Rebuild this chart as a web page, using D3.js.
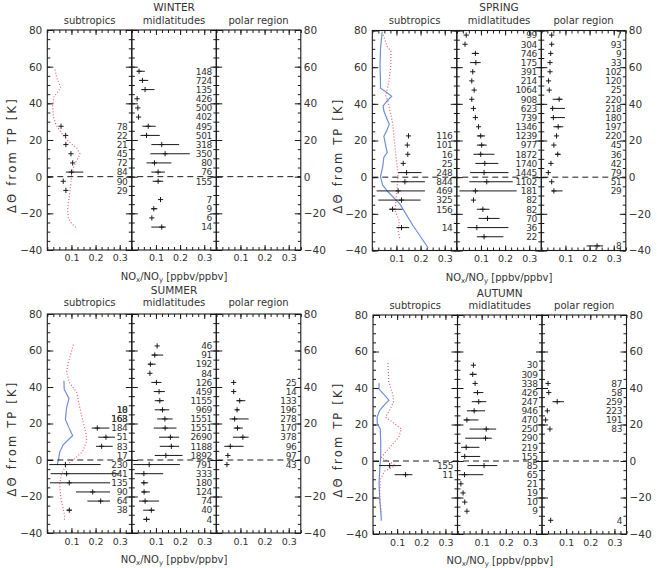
<!DOCTYPE html>
<html>
<head>
<meta charset="utf-8">
<script src="https://cdn.jsdelivr.net/npm/d3@7"></script>
<style>
body { margin: 0; background: #fff; }
text { font-family: "DejaVu Sans", sans-serif; fill: #333; }
</style>
</head>
<body>
<svg id="chart" width="657" height="568"></svg>
<script>
// tick labels
var xTickLabels = [0.1, 0.2, 0.3];
var yTickLabels = [-40, -20, 0, 20, 40, 60, 80];
var subNames = ["subtropics", "midlatitudes", "polar region"];

// WINTER subtropics
var winSubTheta = [27.5, 22.5, 17.5, 12.5, 7.5, 2.5, -2.5, -7.5];
var winSubMed = [0.057, 0.076, 0.077, 0.098, 0.105, 0.100, 0.066, 0.077];
var winSubLo  = [0.057, 0.076, 0.077, 0.098, 0.105, 0.077, 0.066, 0.077];
var winSubHi  = [0.057, 0.076, 0.077, 0.098, 0.105, 0.149, 0.066, 0.077];
var winSubN = [78, 22, 21, 45, 72, 84, 90, 29];
var winRedTheta = [58.4, 53.8, 48.9, 46.5, 43.8, 38.4, 32.9, 28.4, 23.8, 19.3, 15.6, 12.5, 9.3, 5.6, 1.1, -4.4, -10.7, -18, -22.5, -25.6, -28.5];
var winRed = [0.032, 0.039, 0.055, 0.046, 0.028, 0.022, 0.025, 0.036, 0.059, 0.087, 0.122, 0.135, 0.124, 0.110, 0.101, 0.097, 0.091, 0.084, 0.087, 0.101, 0.124];
// WINTER midlatitudes
var winMidTheta = [57.5, 52.5, 47.5, 42.5, 37.5, 32.5, 27.5, 22.5, 17.5, 12.5, 7.5, 2.5, -2.5, -12.5, -17.5, -22.5, -27.5];
var winMidMed = [0.030, 0.044, 0.055, 0.022, 0.025, 0.028, 0.068, 0.061, 0.124, 0.138, 0.094, 0.109, 0.109, 0.119, 0.091, 0.083, 0.124];
var winMidLo  = [0.022, 0.030, 0.039, 0.022, 0.025, 0.028, 0.044, 0.036, 0.081, 0.077, 0.061, 0.081, 0.086, 0.119, 0.081, 0.083, 0.081];
var winMidHi  = [0.054, 0.068, 0.094, 0.022, 0.025, 0.028, 0.099, 0.116, 0.196, 0.240, 0.164, 0.137, 0.130, 0.119, 0.106, 0.083, 0.141];
var winMidN = [148, 724, 135, 426, 500, 402, 495, 501, 318, 350, 80, 76, 155, 7, 9, 6, 14];

// SPRING subtropics
var sprSubTheta = [22.5, 17.5, 12.5, 7.5, 2.5, -2.5, -7.5, -12.5, -17.5, -27.5];
var sprSubMed = [0.150, 0.145, 0.147, 0.128, 0.142, 0.135, 0.107, 0.121, 0.084, 0.121];
var sprSubLo  = [0.150, 0.145, 0.147, 0.128, 0.107, 0.077, 0.018, 0.025, 0.069, 0.100];
var sprSubHi  = [0.150, 0.145, 0.147, 0.128, 0.204, 0.218, 0.218, 0.200, 0.125, 0.153];
var sprSubN = [116, 101, 16, 25, 248, 844, 469, 325, 156, 14];
var sprBlueTheta = [79.4, 70.2, 61, 50.9, 48.5, 46.3, 44.1, 41.7, 38.9, 36.1, 32.4, 28.8, 25.1, 22.3, 16.8, 13.5, 10.9, 5.7, 0.2, -4.4, -8.1, -14.6, -26.5, -38.5];
var sprBlue = [0.041, 0.034, 0.032, 0.034, 0.034, 0.059, 0.080, 0.062, 0.045, 0.048, 0.059, 0.070, 0.059, 0.048, 0.056, 0.062, 0.048, 0.043, 0.034, 0.043, 0.066, 0.114, 0.169, 0.231];
var sprRedTheta = [77.6, 71.2, 68.8, 61, 51.8, 44.4, 40.7, 36.1, 29.7, 20.5, 11.2, 2, -5.3, -12.7, -18.2, -23.8, -29.3, -33.4];
var sprRed = [0.045, 0.062, 0.077, 0.077, 0.068, 0.056, 0.066, 0.073, 0.084, 0.091, 0.098, 0.107, 0.103, 0.098, 0.094, 0.112, 0.107, 0.114];
// SPRING midlatitudes
var sprMidTheta = [77.5, 72.5, 67.5, 62.5, 57.5, 52.5, 47.5, 42.5, 37.5, 32.5, 27.5, 22.5, 17.5, 12.5, 7.5, 2.5, -2.5, -7.5, -12.5, -17.5, -22.5, -27.5, -32.5];
var sprMidMed = [0.039, 0.034, 0.077, 0.079, 0.066, 0.062, 0.072, 0.062, 0.069, 0.077, 0.090, 0.099, 0.103, 0.099, 0.116, 0.113, 0.124, 0.077, 0.069, 0.108, 0.127, 0.083, 0.113];
var sprMidLo  = [0.039, 0.034, 0.062, 0.055, 0.066, 0.062, 0.072, 0.062, 0.069, 0.077, 0.090, 0.083, 0.083, 0.069, 0.077, 0.055, 0.052, 0.011, 0.069, 0.083, 0.090, 0.044, 0.083];
var sprMidHi  = [0.039, 0.034, 0.092, 0.099, 0.066, 0.062, 0.072, 0.062, 0.069, 0.077, 0.090, 0.117, 0.124, 0.156, 0.172, 0.214, 0.232, 0.248, 0.069, 0.135, 0.177, 0.214, 0.193];
var sprMidN = [99, 304, 746, 175, 391, 214, 1064, 908, 623, 739, 1346, 1239, 977, 1872, 1740, 1445, 1102, 181, 82, 82, 70, 36, 22];
// SPRING polar region
var sprPolTheta = [77.5, 72.5, 67.5, 62.5, 57.5, 52.5, 47.5, 42.5, 37.5, 32.5, 27.5, 22.5, 17.5, 12.5, 7.5, 2.5, -2.5, -7.5, -37.5];
var sprPolMed = [0.043, 0.043, 0.039, 0.036, 0.036, 0.030, 0.033, 0.074, 0.047, 0.050, 0.070, 0.063, 0.052, 0.068, 0.040, 0.029, 0.043, 0.052, 0.231];
var sprPolLo  = [0.043, 0.043, 0.039, 0.036, 0.036, 0.030, 0.033, 0.047, 0.039, 0.039, 0.050, 0.063, 0.052, 0.057, 0.040, 0.029, 0.043, 0.043, 0.188];
var sprPolHi  = [0.043, 0.043, 0.039, 0.036, 0.036, 0.030, 0.033, 0.088, 0.098, 0.098, 0.091, 0.063, 0.052, 0.080, 0.040, 0.029, 0.043, 0.088, 0.256];
var sprPolN = [7, 93, 9, 33, 102, 120, 25, 220, 218, 180, 197, 220, 45, 36, 42, 79, 51, 29, 8];

// SUMMER subtropics
var sumSubTheta = [27.5, 22.5, 17.5, 12.5, 7.5, 2.5, -2.5, -7.5, -12.5, -17.5, -22.5, -27.5];
var sumSubMed = [null, null, 0.207, 0.243, 0.225, null, 0.075, 0.080, 0.091, 0.188, 0.221, 0.091];
var sumSubLo  = [null, null, 0.184, 0.211, 0.202, null, 0.008, 0.014, 0.011, 0.119, 0.166, 0.080];
var sumSubHi  = [null, null, 0.257, 0.280, 0.271, null, 0.221, 0.300, 0.260, 0.260, 0.260, 0.101];
var sumSubN = [18, 163, 184, 51, 83, 17, 230, 641, 135, 90, 64, 38];
var sumSubN2 = [10, 168, null, null, null, null, null, null, null, null, null, null];
var sumBlueTheta = [43.4, 38.8, 33.6, 28.7, 22.2, 17.6, 13.3, 11.1, 8.3, 4.6, 0, -2.8];
var sumBlue = [0.069, 0.070, 0.090, 0.080, 0.075, 0.090, 0.105, 0.087, 0.066, 0.052, 0.046, 0.041];
var sumRedTheta = [63.2, 58.2, 53.6, 48.1, 42.5, 37, 29.6, 22.2, 14.8, 10.2, 4.6, 0.9, -2.8, -7.4, -12.9, -20.3, -26.8, -31.4, -33.6];
var sumRed = [0.108, 0.098, 0.087, 0.080, 0.091, 0.122, 0.133, 0.146, 0.160, 0.163, 0.146, 0.115, 0.080, 0.059, 0.052, 0.055, 0.066, 0.073, 0.069];
// SUMMER midlatitudes
var sumMidTheta = [62.5, 57.5, 52.5, 47.5, 42.5, 37.5, 32.5, 27.5, 22.5, 17.5, 12.5, 7.5, 2.5, -2.5, -7.5, -12.5, -17.5, -22.5, -27.5, -32.5];
var sumMidMed = [0.105, 0.095, 0.077, 0.075, 0.102, 0.113, 0.116, 0.127, 0.137, 0.138, 0.160, 0.164, 0.141, 0.072, 0.050, 0.050, 0.051, 0.055, 0.081, 0.061];
var sumMidLo  = [0.105, 0.081, 0.068, 0.075, 0.081, 0.091, 0.095, 0.095, 0.105, 0.091, 0.113, 0.116, 0.095, 0.006, 0.012, 0.040, 0.040, 0.030, 0.047, 0.047];
var sumMidHi  = [0.105, 0.130, 0.099, 0.075, 0.123, 0.137, 0.133, 0.155, 0.169, 0.185, 0.196, 0.196, 0.210, 0.199, 0.130, 0.068, 0.075, 0.113, 0.095, 0.075];
var sumMidN = [46, 91, 192, 84, 126, 459, 1155, 969, 1551, 1551, 2690, 1188, 1892, 791, 333, 180, 124, 74, 40, 4];
// SUMMER polar region
var sumPolTheta = [42.5, 37.5, 32.5, 27.5, 22.5, 17.5, 12.5, 7.5, 2.5, -2.5];
var sumPolMed = [0.072, 0.072, 0.097, 0.086, 0.076, 0.088, 0.110, 0.058, 0.048, 0.044];
var sumPolLo  = [0.072, 0.072, 0.083, 0.080, 0.055, 0.072, 0.069, 0.033, 0.044, 0.044];
var sumPolHi  = [0.072, 0.072, 0.120, 0.095, 0.134, 0.110, 0.134, 0.113, 0.052, 0.044];
var sumPolN = [25, 14, 133, 196, 278, 170, 378, 96, 97, 43];

// AUTUMN subtropics
var autSubTheta = [-2.5, -7.5];
var autSubMed = [0.069, 0.135];
var autSubLo  = [0.025, 0.090];
var autSubHi  = [0.117, 0.163];
var autSubN = [155, 11];
var autBlueTheta = [42.6, 39.4, 36.1, 33.3, 30.9, 27.8, 24.1, 20.4, 17.6, 10.2, 2.8, -4.6, -12, -21.3, -30.6, -32.8];
var autBlue = [0.025, 0.025, 0.048, 0.066, 0.048, 0.028, 0.017, 0.018, 0.030, 0.032, 0.032, 0.028, 0.025, 0.028, 0.034, 0.034];
var autRedTheta = [53.7, 43.5, 36.1, 32.4, 27.8, 24.1, 20.4, 17.6, 13, 7.4, 1.9, -2.4, -5.6, -10.2, -19.4, -28.7];
var autRed = [0.062, 0.065, 0.083, 0.085, 0.069, 0.052, 0.090, 0.117, 0.107, 0.069, 0.034, 0.096, 0.048, 0.030, 0.028, 0.034];
// AUTUMN midlatitudes
var autMidTheta = [52.5, 47.5, 42.5, 37.5, 32.5, 27.5, 22.5, 17.5, 12.5, 7.5, 2.5, -2.5, -7.5, -12.5, -17.5, -22.5, -27.5];
var autMidMed = [0.066, 0.063, 0.073, 0.083, 0.088, 0.069, 0.039, 0.119, 0.116, 0.036, 0.030, 0.110, 0.029, 0.014, 0.023, 0.030, 0.039];
var autMidLo  = [0.066, 0.050, 0.073, 0.066, 0.059, 0.039, 0.025, 0.050, 0.032, 0.015, 0.014, 0.041, 0.004, 0.014, 0.023, 0.030, 0.039];
var autMidHi  = [0.066, 0.080, 0.073, 0.107, 0.119, 0.114, 0.087, 0.160, 0.142, 0.091, 0.094, 0.165, 0.107, 0.014, 0.023, 0.030, 0.039];
var autMidN = [30, 309, 338, 426, 247, 946, 470, 250, 290, 219, 155, 85, 65, 21, 19, 10, 9];
// AUTUMN polar region
var autPolTheta = [42.5, 37.5, 32.5, 27.5, 22.5, 17.5, -32.5];
var autPolMed = [0.025, 0.028, 0.063, 0.022, 0.015, 0.033, 0.036];
var autPolLo  = [0.025, 0.028, 0.043, 0.022, 0.015, 0.033, 0.036];
var autPolHi  = [0.025, 0.028, 0.091, 0.022, 0.015, 0.033, 0.036];
var autPolN = [87, 58, 259, 223, 191, 83, 4];

var empty = {theta: [], med: [], lo: [], hi: [], n: []};

var panels = [
  {title: "WINTER", x0: 47.3, yTop: 30, yBot: 250, titleY: 10.5, subY: 23.5, tickY: 254.5, axisY: 280, yLabX: 12,
   subs: [
     {theta: winSubTheta, med: winSubMed, lo: winSubLo, hi: winSubHi, n: winSubN,
      redTheta: winRedTheta, red: winRed},
     {theta: winMidTheta, med: winMidMed, lo: winMidLo, hi: winMidHi, n: winMidN},
     empty]},
  {title: "SPRING", x0: 372.3, yTop: 30.5, yBot: 250.5, titleY: 10.5, subY: 23.5, tickY: 255, axisY: 280.5, yLabX: 338,
   subs: [
     {theta: sprSubTheta, med: sprSubMed, lo: sprSubLo, hi: sprSubHi, n: sprSubN,
      blueTheta: sprBlueTheta, blue: sprBlue, redTheta: sprRedTheta, red: sprRed},
     {theta: sprMidTheta, med: sprMidMed, lo: sprMidLo, hi: sprMidHi, n: sprMidN},
     {theta: sprPolTheta, med: sprPolMed, lo: sprPolLo, hi: sprPolHi, n: sprPolN}]},
  {title: "SUMMER", x0: 47.3, yTop: 314, yBot: 533, titleY: 293.5, subY: 306, tickY: 538, axisY: 563, yLabX: 12,
   subs: [
     {theta: sumSubTheta, med: sumSubMed, lo: sumSubLo, hi: sumSubHi, n: sumSubN, n2: sumSubN2,
      blueTheta: sumBlueTheta, blue: sumBlue, redTheta: sumRedTheta, red: sumRed},
     {theta: sumMidTheta, med: sumMidMed, lo: sumMidLo, hi: sumMidHi, n: sumMidN},
     {theta: sumPolTheta, med: sumPolMed, lo: sumPolLo, hi: sumPolHi, n: sumPolN}]},
  {title: "AUTUMN", x0: 373, yTop: 315, yBot: 534, titleY: 297, subY: 309, tickY: 539, axisY: 563.5, yLabX: 338,
   subs: [
     {theta: autSubTheta, med: autSubMed, lo: autSubLo, hi: autSubHi, n: autSubN,
      blueTheta: autBlueTheta, blue: autBlue, redTheta: autRedTheta, red: autRed},
     {theta: autMidTheta, med: autMidMed, lo: autMidLo, hi: autMidHi, n: autMidN},
     {theta: autPolTheta, med: autPolMed, lo: autPolLo, hi: autPolHi, n: autPolN}]}
];

var svg = d3.select("#chart");
var subW = 84.5;
var fnt = "DejaVu Sans";

function styleAxis(g, size) {
  g.attr("font-family", fnt).attr("font-size", size).attr("color", "#1a1a1a");
  g.select(".domain").remove();
  g.selectAll("text").style("fill", "#333");
}

function drawPanel(p) {
  var g = svg.append("g");
  var y = d3.scaleLinear().domain([-40, 80]).range([p.yBot, p.yTop]);
  var yMinor = d3.range(-40, 81, 5);
  var xMinor = d3.range(0, 0.351, 0.025);

  p.subs.forEach(function(s, i) {
    var left = p.x0 + i * subW;
    var right = left + subW;
    var x = d3.scaleLinear().domain([0, 0.35]).range([left, right]);

    //minor ticks, all four sides, pointing in
    g.append("g").attr("transform", "translate(" + left + ",0)")
      .call(d3.axisLeft(y).tickValues(yMinor).tickSize(-3).tickFormat(""))
      .call(styleAxis, 10);
    g.append("g").attr("transform", "translate(" + right + ",0)")
      .call(d3.axisRight(y).tickValues(yMinor).tickSize(-3).tickFormat(""))
      .call(styleAxis, 10);
    g.append("g").attr("transform", "translate(0," + p.yTop + ")")
      .call(d3.axisTop(x).tickValues(xMinor).tickSize(-3).tickFormat(""))
      .call(styleAxis, 10);
    g.append("g").attr("transform", "translate(0," + p.yBot + ")")
      .call(d3.axisBottom(x).tickValues(xMinor).tickSize(-3).tickFormat(""))
      .call(styleAxis, 10);

    //major ticks
    g.append("g").attr("transform", "translate(" + left + ",0)")
      .call(d3.axisLeft(y).tickValues(yTickLabels).tickSize(-6).tickPadding(5)
        .tickFormat(i == 0 ? d3.format("d") : ""))
      .call(styleAxis, 10.5);
    g.append("g").attr("transform", "translate(" + right + ",0)")
      .call(d3.axisRight(y).tickValues(yTickLabels).tickSize(-6).tickPadding(3)
        .tickFormat(i == 2 ? d3.format("d") : ""))
      .call(styleAxis, 10.5);
    g.append("g").attr("transform", "translate(0," + p.yTop + ")")
      .call(d3.axisTop(x).tickValues(xTickLabels).tickSize(-5).tickFormat(""))
      .call(styleAxis, 10);
    g.append("g").attr("transform", "translate(0," + p.yBot + ")")
      .call(d3.axisBottom(x).tickValues(xTickLabels).tickSize(-5).tickPadding(p.tickY - p.yBot)
        .tickFormat(d3.format(".1f")))
      .call(styleAxis, 9.5);

    //frame
    g.append("rect")
      .attr("x", left).attr("y", p.yTop)
      .attr("width", subW).attr("height", p.yBot - p.yTop)
      .attr("fill", "none").attr("stroke", "#1a1a1a").attr("stroke-width", 1.1);

    //sub title
    g.append("text")
      .attr("x", left + subW / 2).attr("y", p.subY)
      .attr("text-anchor", "middle").attr("font-size", 10)
      .text(subNames[i]);

    //profile lines (subtropics only)
    if (s.blue) {
      var blueLine = d3.line()
        .x(function(d, k) { return x(s.blue[k]); })
        .y(function(d) { return y(d); });
      g.append("path").attr("d", blueLine(s.blueTheta))
        .attr("fill", "none").attr("stroke", "#6d8fdc").attr("stroke-width", 1.2);
    }
    if (s.red) {
      var redLine = d3.line()
        .x(function(d, k) { return x(s.red[k]); })
        .y(function(d) { return y(d); });
      g.append("path").attr("d", redLine(s.redTheta))
        .attr("fill", "none").attr("stroke", "#e8606a").attr("stroke-width", 1.2)
        .attr("stroke-dasharray", "1,2");
    }

    //error bars and plus markers
    var pts = g.append("g").attr("stroke", "#1a1a1a").attr("stroke-width", 1);
    s.theta.forEach(function(t, k) {
      if (s.med[k] == null) return;
      var cy = y(t), cx = x(s.med[k]);
      if (s.hi[k] > s.lo[k]) {
        pts.append("line")
          .attr("x1", x(s.lo[k])).attr("x2", x(s.hi[k]))
          .attr("y1", cy).attr("y2", cy);
      }
      pts.append("line").attr("x1", cx - 2.6).attr("x2", cx + 2.6).attr("y1", cy).attr("y2", cy);
      pts.append("line").attr("x1", cx).attr("x2", cx).attr("y1", cy - 2.6).attr("y2", cy + 2.6);
    });

    //counts
    g.selectAll(null)
      .data(s.theta)
      .enter().append("text")
      .attr("x", right - 4.5)
      .attr("y", function(d) { return y(d) + 3.3; })
      .attr("text-anchor", "end")
      .attr("font-size", 9)
      .attr("letter-spacing", -0.4)
      .text(function(d, k) { return s.n[k]; });
    if (s.n2) {
      g.selectAll(null)
        .data(s.theta)
        .enter().append("text")
        .attr("x", right - 4.5)
        .attr("y", function(d) { return y(d) + 3.3; })
        .attr("text-anchor", "end")
        .attr("font-size", 9)
        .attr("letter-spacing", -0.4)
        .text(function(d, k) { return s.n2[k] == null ? "" : s.n2[k]; });
    }
  });

  //dashed zero line
  g.append("line")
    .attr("x1", p.x0).attr("x2", p.x0 + 3 * subW)
    .attr("y1", y(0)).attr("y2", y(0))
    .attr("stroke", "#1a1a1a").attr("stroke-width", 1)
    .attr("stroke-dasharray", "6,4");

  //season title
  g.append("text")
    .attr("x", p.x0 + 1.5 * subW).attr("y", p.titleY)
    .attr("text-anchor", "middle").attr("font-size", 10.5)
    .text(p.title);

  //x axis title
  var xt = g.append("text")
    .attr("x", p.x0 + 1.5 * subW).attr("y", p.axisY)
    .attr("text-anchor", "middle").attr("font-size", 10);
  xt.append("tspan").text("NO");
  xt.append("tspan").attr("font-size", 7).attr("dy", 2).text("x");
  xt.append("tspan").attr("dy", -2).text("/NO");
  xt.append("tspan").attr("font-size", 7).attr("dy", 2).text("y");
  xt.append("tspan").attr("dy", -2).text(" [ppbv/ppbv]");

  //y axis title
  var yc = (p.yTop + p.yBot) / 2 + 15;
  g.append("text")
    .attr("transform", "translate(" + p.yLabX + "," + yc + ") rotate(-90)")
    .attr("text-anchor", "middle")
    .attr("dy", "0.35em")
    .attr("font-size", 11.5)
    .attr("letter-spacing", 2.2)
    .text("\u0394\u0398 from TP [K]");
}

panels.forEach(drawPanel);
</script>
</body>
</html>
